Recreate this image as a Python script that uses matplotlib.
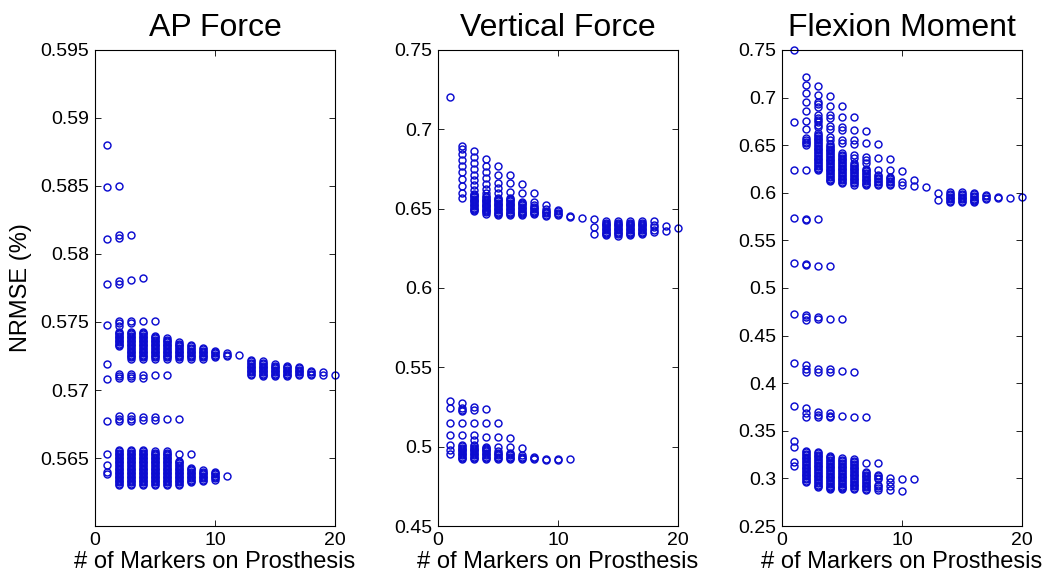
import numpy as np
import matplotlib
matplotlib.use('Agg')
import matplotlib.pyplot as plt

# NRMSE values, one list per number of markers (x)
ap_force = {
    1: [0.5880, 0.5849, 0.5811, 0.5778, 0.5748, 0.5719, 0.5708, 0.5677, 0.5653, 0.5645, 0.5640, 0.5638],
    2: [0.5850, 0.5814, 0.5812, 0.5780, 0.5778, 0.5751, 0.5749, 0.5747,
        0.5743, 0.5742, 0.5741, 0.5740, 0.5739, 0.5738, 0.5737, 0.5736, 0.5735, 0.5734, 0.5733, 0.5732,
        0.5712, 0.5710, 0.5709, 0.5681, 0.5679, 0.5677,
        0.5656, 0.5655, 0.5654, 0.5653, 0.5652, 0.5651, 0.5650, 0.5649, 0.5648, 0.5647, 0.5646, 0.5645,
        0.5644, 0.5643, 0.5642, 0.5641, 0.5640, 0.5639, 0.5638, 0.5637, 0.5636, 0.5635, 0.5634, 0.5633,
        0.5632, 0.5631, 0.5630],
    3: [0.5814, 0.5781, 0.5751, 0.5749,
        0.5743, 0.5742, 0.5741, 0.5740, 0.5739, 0.5738, 0.5737, 0.5736, 0.5735, 0.5734, 0.5733, 0.5732,
        0.5731, 0.5730, 0.5729, 0.5728, 0.5727, 0.5726, 0.5725, 0.5724, 0.5723,
        0.5712, 0.5710, 0.5709, 0.5681, 0.5679, 0.5677,
        0.5656, 0.5655, 0.5654, 0.5653, 0.5652, 0.5651, 0.5650, 0.5649, 0.5648, 0.5647, 0.5646, 0.5645,
        0.5644, 0.5643, 0.5642, 0.5641, 0.5640, 0.5639, 0.5638, 0.5637, 0.5636, 0.5635, 0.5634, 0.5633,
        0.5632, 0.5631, 0.5630],
    4: [0.5782, 0.5751,
        0.5743, 0.5742, 0.5741, 0.5740, 0.5739, 0.5738, 0.5737, 0.5736, 0.5735, 0.5734, 0.5733, 0.5732,
        0.5731, 0.5730, 0.5729, 0.5728, 0.5727, 0.5726, 0.5725, 0.5724, 0.5723,
        0.5711, 0.5709, 0.5680, 0.5678,
        0.5656, 0.5655, 0.5654, 0.5653, 0.5652, 0.5651, 0.5650, 0.5649, 0.5648, 0.5647, 0.5646, 0.5645,
        0.5644, 0.5643, 0.5642, 0.5641, 0.5640, 0.5639, 0.5638, 0.5637, 0.5636, 0.5635, 0.5634, 0.5633,
        0.5632, 0.5631, 0.5630],
    5: [0.5751,
        0.5740, 0.5739, 0.5738, 0.5737, 0.5736, 0.5735, 0.5734, 0.5733, 0.5732,
        0.5731, 0.5730, 0.5729, 0.5728, 0.5727, 0.5726, 0.5725, 0.5724, 0.5723,
        0.5711, 0.5680, 0.5678,
        0.5655, 0.5654, 0.5653, 0.5652, 0.5651, 0.5650, 0.5649, 0.5648, 0.5647, 0.5646, 0.5645,
        0.5644, 0.5643, 0.5642, 0.5641, 0.5640, 0.5639, 0.5638, 0.5637, 0.5636, 0.5635, 0.5634, 0.5633,
        0.5632, 0.5631, 0.5630],
    6: [0.5738, 0.5737, 0.5736, 0.5735, 0.5734, 0.5733, 0.5732,
        0.5731, 0.5730, 0.5729, 0.5728, 0.5727, 0.5726, 0.5725, 0.5724, 0.5723,
        0.5711, 0.5679,
        0.5655, 0.5654, 0.5653, 0.5652, 0.5651, 0.5650, 0.5649, 0.5648, 0.5647, 0.5646, 0.5645,
        0.5644, 0.5643, 0.5642, 0.5641, 0.5640, 0.5639, 0.5638, 0.5637, 0.5636, 0.5635, 0.5634, 0.5633,
        0.5632, 0.5631, 0.5630],
    7: [0.5735, 0.5734, 0.5733, 0.5732, 0.5731, 0.5730, 0.5729, 0.5728, 0.5727, 0.5726, 0.5725, 0.5724, 0.5723,
        0.5679, 0.5653,
        0.5648, 0.5647, 0.5646, 0.5645, 0.5644, 0.5643, 0.5642, 0.5641, 0.5640, 0.5639, 0.5638,
        0.5637, 0.5636, 0.5635, 0.5634, 0.5633, 0.5632, 0.5631, 0.5630],
    8: [0.5733, 0.5732, 0.5731, 0.5730, 0.5729, 0.5728, 0.5727, 0.5726, 0.5725, 0.5724, 0.5723,
        0.5653, 0.5643, 0.5642, 0.5641, 0.5640, 0.5639, 0.5638, 0.5637, 0.5636, 0.5635, 0.5634, 0.5633, 0.5632],
    9: [0.5731, 0.5730, 0.5729, 0.5728, 0.5727, 0.5726, 0.5725, 0.5724, 0.5723,
        0.5641, 0.5640, 0.5639, 0.5638, 0.5637, 0.5636, 0.5635, 0.5634, 0.5633],
    10: [0.5729, 0.5728, 0.5727, 0.5726, 0.5725, 0.5724,
         0.5640, 0.5639, 0.5638, 0.5637, 0.5636, 0.5635, 0.5634],
    11: [0.5727, 0.5726, 0.5725, 0.5637],
    12: [0.5726],
    13: [0.5722, 0.5721, 0.5720, 0.5719, 0.5718, 0.5717, 0.5716, 0.5715, 0.5714, 0.5713, 0.5712, 0.5711],
    14: [0.5721, 0.5720, 0.5719, 0.5718, 0.5717, 0.5716, 0.5715, 0.5714, 0.5713, 0.5712, 0.5711, 0.5710],
    15: [0.5719, 0.5718, 0.5717, 0.5716, 0.5715, 0.5714, 0.5713, 0.5712, 0.5711, 0.5710],
    16: [0.5718, 0.5717, 0.5716, 0.5715, 0.5714, 0.5713, 0.5712, 0.5711, 0.5710],
    17: [0.5717, 0.5716, 0.5715, 0.5714, 0.5713, 0.5712, 0.5711],
    18: [0.5714, 0.5713, 0.5712, 0.5711],
    19: [0.5713, 0.5711],
    20: [0.5711],
}

vertical_force = {
    1: [0.7202, 0.5290, 0.5242, 0.5151, 0.5074, 0.5011, 0.4979, 0.4954],
    2: [0.6897, 0.6876, 0.6843, 0.6807, 0.6771, 0.6733, 0.6687, 0.6643, 0.6597, 0.6565,
        0.5277, 0.5242, 0.5232, 0.5222, 0.5147, 0.5074,
        0.5010, 0.5002, 0.4994, 0.4986, 0.4978, 0.4970, 0.4962, 0.4954, 0.4946, 0.4938, 0.4930, 0.4922],
    3: [0.6865, 0.6824, 0.6786, 0.6748, 0.6712, 0.6681, 0.6649, 0.6618,
        0.6595, 0.6587, 0.6579, 0.6571, 0.6563, 0.6555, 0.6547, 0.6539, 0.6531, 0.6523, 0.6515,
        0.6507, 0.6499, 0.6491, 0.6483,
        0.5252, 0.5232, 0.5147, 0.5074, 0.5043,
        0.5010, 0.5002, 0.4994, 0.4986, 0.4978, 0.4970, 0.4962, 0.4954, 0.4946, 0.4938, 0.4930, 0.4922],
    4: [0.6815, 0.6770, 0.6733, 0.6695, 0.6655, 0.6625, 0.6600,
        0.6580, 0.6572, 0.6564, 0.6556, 0.6548, 0.6540, 0.6532, 0.6524, 0.6516, 0.6508, 0.6500,
        0.6492, 0.6484, 0.6476, 0.6468,
        0.5238, 0.5147, 0.5060,
        0.5000, 0.4994, 0.4986, 0.4978, 0.4970, 0.4962, 0.4954, 0.4946, 0.4938, 0.4930, 0.4922],
    5: [0.6771, 0.6712, 0.6660, 0.6628, 0.6597,
        0.6570, 0.6562, 0.6554, 0.6546, 0.6538, 0.6530, 0.6522, 0.6514, 0.6506, 0.6498, 0.6490,
        0.6482, 0.6474, 0.6466, 0.6458,
        0.5147, 0.5060, 0.5000,
        0.4970, 0.4962, 0.4954, 0.4946, 0.4938, 0.4930, 0.4922],
    6: [0.6712, 0.6660, 0.6607,
        0.6570, 0.6562, 0.6554, 0.6546, 0.6538, 0.6530, 0.6522, 0.6514, 0.6506, 0.6498, 0.6490,
        0.6482, 0.6474, 0.6466, 0.6458,
        0.5053, 0.5000, 0.4960, 0.4954, 0.4946, 0.4938, 0.4930, 0.4922],
    7: [0.6654, 0.6601,
        0.6544, 0.6536, 0.6528, 0.6520, 0.6512, 0.6504, 0.6496, 0.6488, 0.6480, 0.6472, 0.6464, 0.6458,
        0.4994, 0.4945, 0.4938, 0.4930, 0.4922],
    8: [0.6597, 0.6544, 0.6520, 0.6512, 0.6504, 0.6496, 0.6488, 0.6480, 0.6472, 0.6464,
        0.4935, 0.4928, 0.4920],
    9: [0.6523, 0.6495, 0.6487, 0.6479, 0.6471, 0.6463, 0.6455, 0.4925, 0.4915],
    10: [0.6491, 0.6483, 0.6475, 0.6467, 0.6460, 0.4925, 0.4915],
    11: [0.6454, 0.6448, 0.4920],
    12: [0.6443],
    13: [0.6433, 0.6386, 0.6338],
    14: [0.6420, 0.6412, 0.6404, 0.6396, 0.6388, 0.6380, 0.6372, 0.6364, 0.6356, 0.6348, 0.6340, 0.6332],
    15: [0.6420, 0.6412, 0.6404, 0.6396, 0.6388, 0.6380, 0.6372, 0.6364, 0.6356, 0.6348, 0.6340, 0.6328],
    16: [0.6420, 0.6412, 0.6404, 0.6396, 0.6388, 0.6380, 0.6372, 0.6364, 0.6356, 0.6348, 0.6340, 0.6332],
    17: [0.6420, 0.6412, 0.6404, 0.6396, 0.6388, 0.6380, 0.6372, 0.6364, 0.6356, 0.6348, 0.6340],
    18: [0.6420, 0.6400, 0.6385, 0.6365, 0.6350],
    19: [0.6393, 0.6361],
    20: [0.6380],
}

flexion_moment = {
    1: [0.7500, 0.6747, 0.6239, 0.5732, 0.5259, 0.4727, 0.4209, 0.3760, 0.3396, 0.3333, 0.3175, 0.3130],
    2: [0.7213, 0.7132, 0.7052, 0.6957, 0.6863, 0.6758, 0.6667, 0.6573, 0.6555, 0.6538, 0.6520, 0.6502,
        0.6239, 0.5720, 0.5716, 0.5250, 0.5245, 0.4717, 0.4692, 0.4664, 0.4192, 0.4150, 0.4118,
        0.3736, 0.3690, 0.3650,
        0.3290, 0.3275, 0.3260, 0.3245, 0.3230, 0.3215, 0.3200, 0.3185, 0.3170, 0.3155, 0.3140, 0.3125,
        0.3110, 0.3095, 0.3080, 0.3065, 0.3050, 0.3035, 0.3020, 0.3005, 0.2990, 0.2975, 0.2966],
    3: [0.7122, 0.7028, 0.6958, 0.6930, 0.6905, 0.6817, 0.6790, 0.6765, 0.6740, 0.6715, 0.6695,
        0.6625, 0.6610, 0.6595, 0.6580, 0.6565, 0.6550, 0.6535, 0.6520, 0.6505, 0.6490, 0.6475, 0.6460,
        0.6445, 0.6430, 0.6415, 0.6400, 0.6385, 0.6370, 0.6355, 0.6340, 0.6325, 0.6310, 0.6295, 0.6280,
        0.6265, 0.6250, 0.6235,
        0.5722, 0.5231, 0.4692, 0.4671, 0.4150, 0.4120, 0.3700, 0.3670, 0.3640,
        0.3280, 0.3265, 0.3250, 0.3235, 0.3220, 0.3205, 0.3190, 0.3175, 0.3160, 0.3145, 0.3130, 0.3115,
        0.3100, 0.3085, 0.3070, 0.3055, 0.3040, 0.3025, 0.3010, 0.2995, 0.2980, 0.2965, 0.2950, 0.2935,
        0.2920, 0.2906],
    4: [0.7017, 0.6912, 0.6818, 0.6790, 0.6700, 0.6665, 0.6590, 0.6555,
        0.6510, 0.6495, 0.6480, 0.6465, 0.6450, 0.6435, 0.6420, 0.6405, 0.6390, 0.6375, 0.6360, 0.6345,
        0.6330, 0.6315, 0.6300, 0.6285, 0.6270, 0.6255, 0.6240, 0.6225, 0.6210, 0.6195, 0.6180, 0.6165,
        0.6150, 0.6135, 0.6120,
        0.5231, 0.4671, 0.4150, 0.4115, 0.3683, 0.3660, 0.3640,
        0.3240, 0.3225, 0.3210, 0.3195, 0.3180, 0.3165, 0.3150, 0.3135, 0.3120, 0.3105, 0.3090, 0.3075,
        0.3060, 0.3045, 0.3030, 0.3015, 0.3000, 0.2985, 0.2970, 0.2955, 0.2940, 0.2925, 0.2910, 0.2895,
        0.2890],
    5: [0.6912, 0.6800, 0.6695, 0.6660, 0.6555, 0.6520,
        0.6415, 0.6400, 0.6385, 0.6370, 0.6355, 0.6340, 0.6325, 0.6310, 0.6295, 0.6280, 0.6265, 0.6250,
        0.6235, 0.6220, 0.6205, 0.6190, 0.6175, 0.6160, 0.6145, 0.6130, 0.6115, 0.6100,
        0.4671, 0.4125, 0.3655,
        0.3210, 0.3195, 0.3180, 0.3165, 0.3150, 0.3135, 0.3120, 0.3105, 0.3090, 0.3075, 0.3060, 0.3045,
        0.3030, 0.3015, 0.3000, 0.2985, 0.2970, 0.2955, 0.2940, 0.2925, 0.2910, 0.2895, 0.2890],
    6: [0.6793, 0.6660, 0.6550, 0.6515, 0.6400, 0.6370,
        0.6310, 0.6295, 0.6280, 0.6265, 0.6250, 0.6235, 0.6220, 0.6205, 0.6190, 0.6175, 0.6160, 0.6145,
        0.6130, 0.6115, 0.6100, 0.6085,
        0.4121, 0.3648,
        0.3200, 0.3185, 0.3170, 0.3155, 0.3140, 0.3125, 0.3110, 0.3095, 0.3080, 0.3065, 0.3050, 0.3035,
        0.3020, 0.3005, 0.2990, 0.2975, 0.2960, 0.2945, 0.2930, 0.2915, 0.2900, 0.2885],
    7: [0.6653, 0.6520, 0.6380, 0.6345, 0.6310,
        0.6255, 0.6240, 0.6225, 0.6210, 0.6195, 0.6180, 0.6165, 0.6150, 0.6135, 0.6120, 0.6105, 0.6090, 0.6085,
        0.3641, 0.3165,
        0.3070, 0.3055, 0.3040, 0.3025, 0.3010, 0.2995, 0.2980, 0.2965, 0.2950, 0.2935, 0.2920, 0.2905,
        0.2890, 0.2880],
    8: [0.6513, 0.6362, 0.6239, 0.6187, 0.6172, 0.6157, 0.6142, 0.6127, 0.6112, 0.6097, 0.6085,
        0.3165, 0.3036, 0.3021, 0.3006, 0.2990, 0.2930, 0.2915, 0.2900, 0.2880],
    9: [0.6352, 0.6239, 0.6170, 0.6155, 0.6140, 0.6125, 0.6110, 0.6095, 0.6080,
        0.3001, 0.2960, 0.2920, 0.2880],
    10: [0.6232, 0.6117, 0.6082, 0.2994, 0.2871],
    11: [0.6135, 0.6071, 0.2990],
    12: [0.6057],
    13: [0.6002, 0.5924],
    14: [0.6005, 0.5990, 0.5975, 0.5960, 0.5945, 0.5930, 0.5915, 0.5905],
    15: [0.6005, 0.5990, 0.5975, 0.5960, 0.5945, 0.5930, 0.5915, 0.5905],
    16: [0.6000, 0.5985, 0.5970, 0.5955, 0.5940, 0.5925, 0.5910, 0.5905],
    17: [0.5980, 0.5965, 0.5950, 0.5935],
    18: [0.5959, 0.5945],
    19: [0.5948],
    20: [0.5952],
}

titles = ["AP Force", "Vertical Force", "Flexion Moment"]
ylims = [(0.56, 0.595), (0.45, 0.75), (0.25, 0.75)]
yticks = [
    [0.565, 0.57, 0.575, 0.58, 0.585, 0.59, 0.595],
    [0.45, 0.5, 0.55, 0.6, 0.65, 0.7, 0.75],
    [0.25, 0.3, 0.35, 0.4, 0.45, 0.5, 0.55, 0.6, 0.65, 0.7, 0.75],
]
xticks = [0, 10, 20]

plt.rcParams['font.family'] = ['Liberation Sans', 'DejaVu Sans']

fig = plt.figure(figsize=(10.52, 5.8), dpi=100)
lefts = [0.0903, 0.4163, 0.7433]

for i, data in enumerate([ap_force, vertical_force, flexion_moment]):
    ax = fig.add_axes([lefts[i], 0.0931, 0.228, 0.8207])
    xs = []
    ys = []
    for k, vals in data.items():
        xs.extend([k] * len(vals))
        ys.extend(vals)
    ax.plot(xs, ys, linestyle='none', marker='o', markersize=5.0,
            markerfacecolor='none', markeredgecolor='#0c0cd0', markeredgewidth=1.05,
            clip_on=False)
    ax.set_xlim(0, 20)
    ax.set_ylim(*ylims[i])
    ax.set_xticks(xticks)
    ax.set_yticks(yticks[i])
    ax.set_yticklabels(["{:g}".format(t) for t in yticks[i]])
    ax.tick_params(direction='in', top=True, right=True, length=4, width=0.6,
                   labelsize=14, pad=4)
    for s in ax.spines.values():
        s.set_linewidth(0.8)
    ax.set_title(titles[i], fontsize=23, pad=10)
    ax.set_xlabel("# of Markers on Prosthesis", fontsize=17, labelpad=2)
    if i == 0:
        ax.set_ylabel("NRMSE (%)", fontsize=17, labelpad=6)

fig.savefig("out.png", dpi=100)
